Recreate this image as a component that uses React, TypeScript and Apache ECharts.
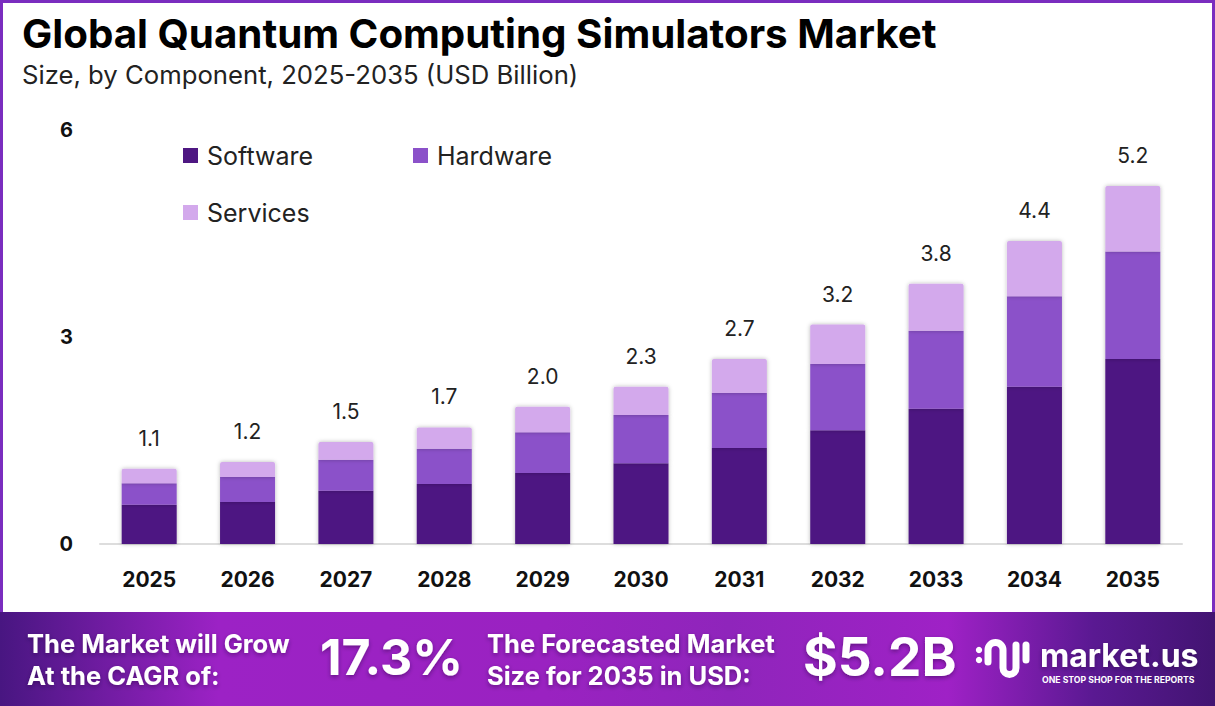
import React, { useEffect, useRef } from "react";
import * as echarts from "echarts";

const years = ["2025", "2026", "2027", "2028", "2029", "2030", "2031", "2032", "2033", "2034", "2035"];
const software = [0.57, 0.61, 0.77, 0.87, 1.03, 1.17, 1.39, 1.65, 1.96, 2.28, 2.68];
const hardware = [0.31, 0.36, 0.45, 0.51, 0.59, 0.70, 0.80, 0.96, 1.13, 1.31, 1.56];
const services = [0.21, 0.22, 0.26, 0.31, 0.37, 0.41, 0.49, 0.57, 0.68, 0.80, 0.95];
const totalLabels = ["1.1", "1.2", "1.5", "1.7", "2.0", "2.3", "2.7", "3.2", "3.8", "4.4", "5.2"];
const seriesNames = ["Software", "Hardware", "Services"];
const colors = ["#4e1782", "#8b51c9", "#d3a9ec"];

const FONT = "Inter, 'Open Sans', sans-serif";

let logoRegistered = false;

export default function App() {
  const ref = useRef<HTMLDivElement>(null);

  useEffect(() => {
    document.body.style.margin = "0";
    if (!logoRegistered) {
      echarts.graphic.registerShape(
        "logo",
        echarts.graphic.extendPath(
          "M13 22 V10 A7.5 7.5 0 0 1 28 10 V28 A6.5 6.5 0 0 0 41 28 V5 M51 5 V20",
          {}
        )
      );
      logoRegistered = true;
    }
    const chart = echarts.init(ref.current!, null, { renderer: "svg" });

    const footerText = (text: string, x: number, y: number, size: number) => ({
      type: "text",
      x,
      y,
      z: 10,
      style: {
        text,
        fill: "#ffffff",
        fontSize: size,
        fontWeight: "bold",
        fontFamily: FONT,
        textVerticalAlign: "middle",
        textShadowColor: "rgba(40,0,60,0.45)",
        textShadowBlur: 4,
        textShadowOffsetY: 2,
      },
    });

    const barSeries = [software, hardware, services].map((data, i) => ({
      name: seriesNames[i],
      type: "bar",
      stack: "total",
      barWidth: 55,
      data,
      itemStyle: {
        color: colors[i],
        borderRadius: i === 2 ? [2, 2, 0, 0] : 0,
        shadowColor: "rgba(0,0,0,0.28)",
        shadowBlur: 4,
      },
      label:
        i === 2
          ? {
              show: true,
              position: "top",
              distance: 20,
              formatter: (p: any) => totalLabels[p.dataIndex],
              fontSize: 21,
              color: "#222",
              fontFamily: FONT,
            }
          : { show: false },
    }));

    const legendAt = (name: string, left: number, top: number) => ({
      data: [name],
      left,
      top,
      padding: 0,
      icon: "rect",
      itemWidth: 15,
      itemHeight: 15,
      selectedMode: false,
      textStyle: { fontSize: 25, color: "#222", fontFamily: FONT, padding: [0, 0, 0, 4] },
    });

    chart.setOption({
      animation: false,
      backgroundColor: "#ffffff",
      legend: [
        legendAt("Software", 183, 143),
        legendAt("Hardware", 413, 143),
        legendAt("Services", 183, 200),
      ],
      grid: { left: 100, right: 33, top: 130, bottom: 162, containLabel: false },
      xAxis: {
        type: "category",
        data: years,
        axisLine: { lineStyle: { color: "#dddddd", width: 2 } },
        axisTick: { show: false },
        axisLabel: {
          margin: 25,
          fontSize: 21,
          fontWeight: "bold",
          color: "#111",
          fontFamily: FONT,
        },
      },
      yAxis: {
        type: "value",
        min: 0,
        max: 6,
        interval: 3,
        splitLine: { show: false },
        axisLine: { show: false },
        axisTick: { show: false },
        axisLabel: {
          margin: 27,
          fontSize: 20,
          fontWeight: "bold",
          color: "#111",
          fontFamily: FONT,
        },
      },
      series: barSeries,
      graphic: [
        {
          type: "rect",
          z: -1,
          shape: { x: 1.5, y: 1.5, width: 1212, height: 612 },
          style: { fill: "none", stroke: "#7a2dbf", lineWidth: 3 },
        },
        {
          type: "rect",
          z: 5,
          shape: { x: 0, y: 612, width: 1215, height: 94 },
          style: {
            fill: new echarts.graphic.LinearGradient(0, 0, 1, 0, [
              { offset: 0, color: "#481681" },
              { offset: 0.18, color: "#9c22c5" },
              { offset: 0.45, color: "#9a22c1" },
              { offset: 0.6, color: "#8f25bb" },
              { offset: 0.78, color: "#9f21c6" },
              { offset: 0.9, color: "#5a1992" },
              { offset: 1, color: "#421472" },
            ]),
          },
        },
        {
          type: "text",
          x: 22,
          y: 33,
          style: {
            text: "Global Quantum Computing Simulators Market",
            fill: "#000",
            fontSize: 40.3,
            fontWeight: "bold",
            fontFamily: FONT,
            textVerticalAlign: "middle",
          },
        },
        {
          type: "text",
          x: 22,
          y: 74,
          style: {
            text: "Size, by Component, 2025-2035 (USD Billion)",
            fill: "#222",
            fontSize: 25.7,
            fontFamily: FONT,
            textVerticalAlign: "middle",
          },
        },
        footerText("The Market will Grow", 27, 643, 25.5),
        footerText("At the CAGR of:", 27, 675, 25.5),
        footerText("17.3%", 320, 657, 50),
        footerText("The Forecasted Market", 487, 643, 25.5),
        footerText("Size for 2035 in USD:", 487, 675, 25.5),
        footerText("$5.2B", 803, 657, 53),
        {
          type: "circle",
          z: 10,
          shape: { cx: 979, cy: 650, r: 3.2 },
          style: { fill: "#fff" },
        },
        {
          type: "circle",
          z: 10,
          shape: { cx: 979, cy: 660, r: 3.2 },
          style: { fill: "#fff" },
        },
        {
          type: "logo",
          z: 10,
          x: 975,
          y: 640,
          style: { stroke: "#fff", lineWidth: 7, fill: "none", lineCap: "round" },
        },
        footerText("market.us", 1040, 655, 32),
        {
          type: "text",
          x: 1042,
          y: 680,
          z: 10,
          style: {
            text: "ONE STOP SHOP FOR THE REPORTS",
            fill: "#fff",
            fontSize: 8.7,
            fontWeight: "bold",
            fontFamily: FONT,
            textVerticalAlign: "middle",
          },
        },
      ],
    });

    return () => chart.dispose();
  }, []);

  return <div ref={ref} style={{ width: 1215, height: 706 }} />;
}
